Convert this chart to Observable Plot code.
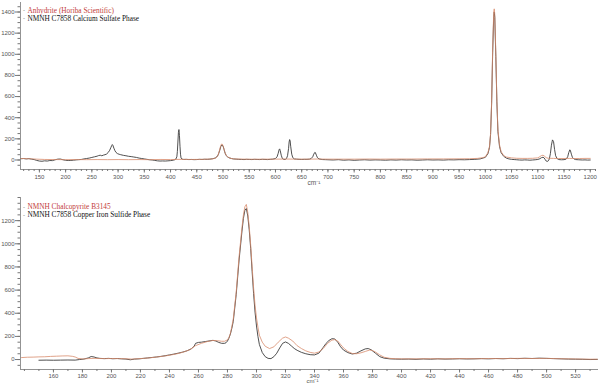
<!DOCTYPE html>
<html><head><meta charset="utf-8">
<script src="https://cdn.jsdelivr.net/npm/d3@7"></script>
<script src="https://cdn.jsdelivr.net/npm/@observablehq/plot@0.6"></script>
<style>body{margin:0;background:#fff}#chart{width:600px}#chart svg{display:block}</style>
</head><body><div id="chart"></div>
<script>
// ---------- TOP PANEL: calcium sulfate ----------
const topLegend = ["Anhydrite (Horiba Scientific)", "NMNH C7858 Calcium Sulfate Phase"];
const topSampleX = [115,120,125,130,135,140,145,150,155,160,165,170,175,180,185,190,195,200,205,210,215,220,225,230,235,240,245,250,255,260,263,266,269,272,275,278,281,284,286,288,289,290,292,294,296,299,302,305,310,315,320,325,330,335,340,345,350,355,360,365,370,375,380,385,390,395,400,405,408,410,412,413,414,415,416,417,418,419,420,422,425,430,435,440,445,450,455,460,465,470,475,480,485,488,491,494,496,498,500,502,504,506,509,512,516,520,525,530,535,540,545,550,555,560,565,570,575,580,585,590,595,600,603,605,607,608,609,611,613,616,619,621,623,625,626,627,628,629,631,633,636,640,645,650,655,660,665,668,671,673,675,676,678,680,683,687,690,695,700,710,720,730,740,750,760,770,780,790,800,810,820,830,840,850,860,870,880,890,900,910,920,930,940,950,960,970,980,990,1000,1005,1008,1010,1012,1014,1016,1017,1018,1020,1022,1024,1027,1030,1035,1040,1045,1050,1055,1060,1065,1070,1075,1080,1085,1090,1095,1100,1104,1107,1110,1112,1114,1116,1118,1120,1122,1124,1126,1128,1130,1132,1134,1137,1140,1145,1150,1154,1157,1159,1161,1162,1164,1166,1169,1172,1178,1185,1190,1195,1200];
const topSampleY = [12,14,10,13,8,4,-4,-10,-12,-8,-10,-5,-6,2,8,9,2,-3,-5,-4,-2,1,3,5,10,14,18,24,30,36,42,45,40,46,50,56,70,92,115,138,146,140,112,88,72,60,54,50,44,40,35,32,28,24,18,14,10,6,2,0,-4,-8,-10,-9,-10,-8,-6,-2,2,8,30,80,170,260,288,230,130,55,20,8,5,6,4,5,3,4,6,5,7,6,8,12,18,28,50,95,130,143,132,100,65,42,28,20,14,10,8,6,5,4,6,5,4,6,5,4,6,5,4,6,8,14,30,60,98,105,90,45,15,5,6,14,40,110,170,193,180,130,55,22,10,8,6,5,6,6,8,14,30,55,72,70,45,22,10,6,4,3,2,0,3,-2,1,-3,0,2,-1,1,0,-2,1,-1,2,0,1,-2,0,2,0,1,-1,2,1,3,2,4,6,10,25,60,120,240,530,1020,1360,1400,1350,980,550,270,130,70,35,18,10,6,4,2,0,-1,1,0,-2,0,2,5,12,22,26,20,5,-10,-14,-8,10,60,140,190,175,100,40,12,4,2,3,8,30,70,96,92,55,25,10,4,2,0,1,-1,0];
const topRefX = [115,130,145,160,180,200,220,240,260,280,300,320,340,360,380,400,420,440,460,480,486,490,493,495,497,499,501,503,506,510,515,520,540,560,580,600,620,640,660,680,700,720,750,780,800,830,860,890,920,950,970,985,995,1000,1005,1008,1010,1012,1014,1016,1017,1018,1020,1022,1024,1027,1030,1035,1040,1050,1060,1070,1080,1090,1100,1104,1107,1110,1113,1116,1120,1130,1140,1150,1160,1170,1180,1190,1200];
const topRefY = [14,12,8,5,4,3,4,3,4,3,4,3,4,3,5,4,6,5,6,10,18,40,85,125,150,148,120,80,45,25,15,10,8,7,8,8,9,8,8,9,8,8,8,9,8,9,9,10,10,11,12,15,22,30,70,130,250,550,1060,1400,1430,1380,1010,570,290,145,80,42,28,20,16,15,15,16,20,32,42,45,35,22,16,15,14,14,15,14,14,15,15];
const topXTicks = [150,200,250,300,350,400,450,500,550,600,650,700,750,800,850,900,950,1000,1050,1100,1150,1200];
const topXMinor = d3.range(120, 1211, 10);
const topYTicks = [0,200,400,600,800,1000,1200,1400];
const topYMinor = d3.range(-50, 1451, 50);

// ---------- BOTTOM PANEL: copper iron sulfide ----------
const botLegend = ["NMNH Chalcopyrite B3145", "NMNH C7858 Copper Iron Sulfide Phase"];
const botSampleX = [150,155,160,165,170,175,178,181,184,186,188,190,192,195,198,201,204,207,210,213,216,219,222,225,228,231,234,237,240,243,246,249,252,255,257,258,260,262,265,268,270,272,274,276,278,279,280,281,282,283,284,286,288,290,291,292,293,294,295,296,297,298,299,300,301,302,304,306,308,310,312,314,316,318,320,322,324,326,328,331,334,337,340,343,346,348,350,352,354,356,358,360,363,366,369,372,375,377,379,382,385,388,392,396,400,405,410,415,420,425,430,435,440,445,450,455,460,465,470,475,480,485,490,495,500,505,510,515,520,525,530,535];
const botSampleY = [-6,-5,-6,-5,-4,-5,0,4,14,26,22,14,10,8,10,7,9,6,4,-2,4,6,10,14,18,22,27,33,40,47,55,64,75,92,115,140,148,150,156,162,166,160,148,140,140,145,160,185,220,270,330,560,860,1110,1220,1290,1305,1240,1120,960,760,570,410,290,200,130,60,25,10,8,25,55,100,140,152,140,118,96,80,62,50,42,40,55,105,140,165,180,178,150,110,82,60,48,55,75,92,95,85,55,25,12,6,4,3,4,2,5,3,6,4,5,7,5,6,8,6,9,7,10,8,11,9,12,10,8,6,4,3,2,0,1];
const botRefX = [138,142,146,150,154,158,162,166,170,173,175,177,180,184,188,192,196,200,205,210,214,218,222,226,230,234,238,242,246,250,254,258,262,266,270,273,276,278,280,281,282,283,284,286,288,290,291,292,293,294,295,296,297,298,299,300,301,302,304,306,309,312,315,318,320,322,325,328,331,334,337,340,343,346,349,352,354,356,358,360,363,366,369,372,375,378,380,382,385,388,392,396,400,410,420,430,440,450,460,470,480,490,500,510,520,530,535];
const botRefY = [17,20,21,23,24,27,29,31,32,28,22,10,5,8,10,9,8,9,8,7,4,7,10,14,20,26,33,42,52,66,85,120,140,155,165,163,158,158,170,190,225,285,350,580,890,1140,1250,1320,1340,1270,1150,990,800,620,470,360,280,210,150,115,95,110,150,185,195,185,160,120,95,75,62,55,65,95,140,168,172,160,130,100,70,52,50,58,70,82,78,65,40,20,10,7,6,6,7,6,8,7,9,8,10,9,10,7,5,3,3];
const botXTicks = [160,180,200,220,240,260,280,300,320,340,360,380,400,420,440,460,480,500,520];
const botXMinor = d3.range(140, 536, 10);
const botYTicks = [0,200,400,600,800,1000,1200];
const botYMinor = d3.range(-50, 1401, 50);

// ---------- styles ----------
const sampleColor = "#3c3c3c";
const refColor = "#d88c6c";
const legendRed = "#c23b3b";
const axisColor = "#777";
const labelColor = "#555";
const plain = d => String(d);

const rows = (xs, ys) => xs.map((x, i) => ({x, y: ys[i]}));

function panel(o) {
  return Plot.plot({
    width: 600,
    height: o.height,
    marginLeft: 20,
    marginRight: o.marginRight,
    marginTop: o.marginTop,
    marginBottom: o.marginBottom,
    style: {fontFamily: "'Liberation Sans', Arial, sans-serif", fontSize: "6px", color: labelColor, background: "#fff"},
    x: {domain: o.xDomain},
    y: {domain: o.yDomain},
    marks: [
      Plot.ruleY([o.yDomain[0]], {stroke: axisColor, strokeWidth: 0.8}),
      Plot.ruleX([o.xDomain[0]], {stroke: axisColor, strokeWidth: 0.8}),
      Plot.axisX(o.xMinor, {anchor: "bottom", tickSize: 2, tickFormat: () => "", stroke: axisColor, label: null}),
      Plot.axisX(o.xTicks, {anchor: "bottom", tickSize: 3.5, tickPadding: o.xPad, tickFormat: plain, stroke: axisColor, fill: labelColor, fontSize: 6, label: null}),
      Plot.axisY(o.yMinor, {anchor: "left", tickSize: 2.5, tickFormat: () => "", stroke: axisColor, label: null}),
      Plot.axisY(o.yTicks, {anchor: "left", tickSize: 5, tickPadding: 1, tickFormat: plain, stroke: axisColor, fill: labelColor, fontSize: 6, label: null}),
      Plot.line(rows(o.sampleX, o.sampleY), {x: "x", y: "y", stroke: sampleColor, strokeWidth: 0.9, clip: true}),
      Plot.line(rows(o.refX, o.refY), {x: "x", y: "y", stroke: refColor, strokeWidth: 0.8, clip: true}),
      Plot.text(["-"], {frameAnchor: "top-left", dx: 2.5, dy: o.legendDy[0], fill: "#666", fontSize: 6}),
      Plot.text(["-"], {frameAnchor: "top-left", dx: 2.5, dy: o.legendDy[1], fill: "#666", fontSize: 6}),
      Plot.text([o.legend[0]], {frameAnchor: "top-left", dx: 7, dy: o.legendDy[0], textAnchor: "start", fill: legendRed, fontFamily: "'Liberation Serif', 'Times New Roman', serif", fontSize: 7.3}),
      Plot.text([o.legend[1]], {frameAnchor: "top-left", dx: 7, dy: o.legendDy[1], textAnchor: "start", fill: "#111", fontFamily: "'Liberation Serif', 'Times New Roman', serif", fontSize: 7.3}),
      Plot.text(["cm\u207B\u00B9"], {frameAnchor: "bottom", dx: o.unitDx, dy: o.unitDy, fill: labelColor, fontSize: o.unitSize})
    ]
  });
}

const chart = document.getElementById("chart");
chart.append(panel({
  height: 190, marginTop: 2, marginBottom: 21, marginRight: 5,
  xDomain: [114, 1210], yDomain: [-90, 1490],
  xTicks: topXTicks, xMinor: topXMinor, yTicks: topYTicks, yMinor: topYMinor, xPad: 2,
  sampleX: topSampleX, sampleY: topSampleY, refX: topRefX, refY: topRefY,
  legend: topLegend, legendDy: [5.3, 13.3], unitDx: 6, unitDy: 15, unitSize: 6.5
}));
chart.append(panel({
  height: 195, marginTop: 7, marginBottom: 16, marginRight: 2,
  xDomain: [137.3, 535.8], yDomain: [-86, 1400],
  xTicks: botXTicks, xMinor: botXMinor, yTicks: botYTicks, yMinor: botYMinor, xPad: 0.8,
  sampleX: botSampleX, sampleY: botSampleY, refX: botRefX, refY: botRefY,
  legend: botLegend, legendDy: [6.8, 14.8], unitDx: 3, unitDy: 13.6, unitSize: 6
}));
</script></body></html>
